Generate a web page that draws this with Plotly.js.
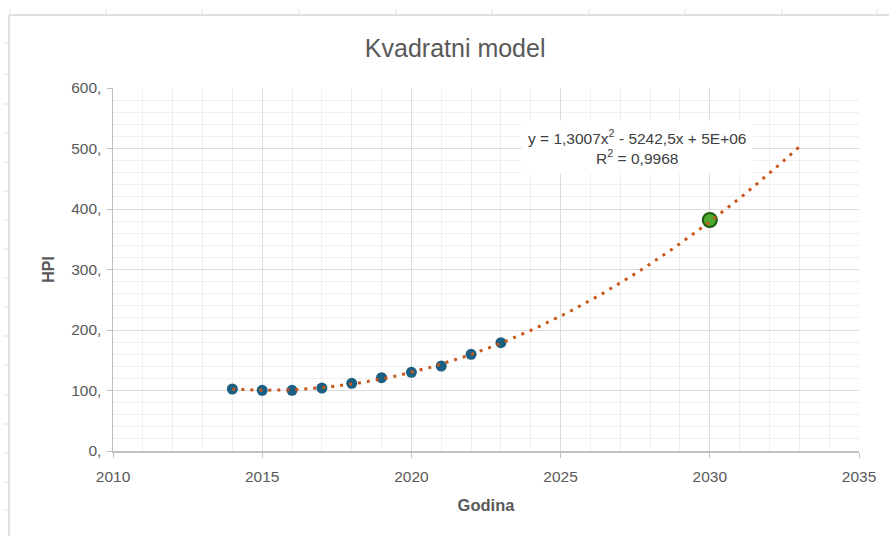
<!DOCTYPE html>
<html>
<head>
<meta charset="utf-8">
<script src="https://cdn.plot.ly/plotly-3.0.1.min.js"></script>
<style>
html,body{margin:0;padding:0;background:#fff;}
#chart{width:889px;height:536px;}
</style>
</head>
<body>
<div id="chart"></div>
<script>
// ---- data ----
var years = [2014, 2015, 2016, 2017, 2018, 2019, 2020, 2021, 2022, 2023];
var hpi = [102.5, 100.3, 100.3, 104, 111.9, 121.2, 130, 140.5, 159.8, 179];
var forecastYear = [2030];
var forecastHpi = [381.8];
var yTickVals = [0, 100, 200, 300, 400, 500, 600];
var yTickText = ['0,', '100,', '200,', '300,', '400,', '500,', '600,'];
var xTickVals = [2010, 2015, 2020, 2025, 2030, 2035];
var xTickText = ['2010', '2015', '2020', '2025', '2030', '2035'];
var titleText = 'Kvadratni model';
var xTitle = 'Godina';
var yTitle = 'HPI';
var eqText = 'y = 1,3007x<sup>2</sup> - 5242,5x + 5E+06<br>R<sup>2</sup> = 0,9968';

// ---- quadratic least-squares trendline (as Excel) ----
function quadFit(xs, ys) {
  var n = xs.length, mx = 0;
  xs.forEach(function(v){ mx += v; }); mx /= n;
  var S = [[0,0,0],[0,0,0],[0,0,0]], B = [0,0,0];
  for (var i = 0; i < n; i++) {
    var t = xs[i] - mx, p = [1, t, t*t];
    for (var r = 0; r < 3; r++) {
      B[r] += p[r] * ys[i];
      for (var c = 0; c < 3; c++) S[r][c] += p[r] * p[c];
    }
  }
  for (var k = 0; k < 3; k++) {
    for (var r2 = k + 1; r2 < 3; r2++) {
      var f = S[r2][k] / S[k][k];
      for (var c2 = k; c2 < 3; c2++) S[r2][c2] -= f * S[k][c2];
      B[r2] -= f * B[k];
    }
  }
  var coef = [0,0,0];
  for (var r3 = 2; r3 >= 0; r3--) {
    var s = B[r3];
    for (var c3 = r3 + 1; c3 < 3; c3++) s -= S[r3][c3] * coef[c3];
    coef[r3] = s / S[r3][r3];
  }
  return function(x){ var t = x - mx; return coef[0] + coef[1]*t + coef[2]*t*t; };
}
var fit = quadFit(years, hpi);
var trendX = [], trendY = [];
var xStart = years[0], xEnd = years[years.length-1] + 10;
for (var k = 0; k <= (xEnd - xStart) * 10; k++) {
  var xv = xStart + k / 10;
  trendX.push(xv); trendY.push(fit(xv));
}

// ---- layout helpers (pixel -> paper) ----
var L = 113, R = 859, T = 88, Bt = 451;
function px(x){ return (x - L) / (R - L); }
function py(y){ return (Bt - y) / (Bt - T); }

var shapes = [];
var frameColor = '#d6d6d6';
shapes.push({type:'line', xref:'paper', yref:'paper', x0:px(9), x1:px(889), y0:py(15), y1:py(15), line:{color:frameColor, width:1.5}, layer:'above'});
shapes.push({type:'line', xref:'paper', yref:'paper', x0:px(9), x1:px(9), y0:py(15), y1:py(536), line:{color:frameColor, width:1.5}, layer:'above'});
var topTicks = [10, 106, 202, 299, 396, 492, 589, 685, 782, 877];
topTicks.forEach(function(x){
  shapes.push({type:'line', xref:'paper', yref:'paper', x0:px(x), x1:px(x), y0:py(9), y1:py(15), line:{color:'#e2e2e2', width:1}});
});
var leftTicks = [43, 74, 104, 133, 162, 191, 220, 249, 278, 307, 336, 365, 395, 424, 453, 482, 510];
leftTicks.forEach(function(y){
  shapes.push({type:'line', xref:'paper', yref:'paper', x0:px(3), x1:px(9), y0:py(y), y1:py(y), line:{color:'#e2e2e2', width:1}});
});

var traces = [
  {x: years, y: hpi, type:'scatter', mode:'markers', name:'HPI',
   marker:{color:'#1b5f82', size:11, line:{width:0}}, showlegend:false, cliponaxis:false},
  {x: forecastYear, y: forecastHpi, type:'scatter', mode:'markers', name:'2030',
   marker:{color:'#4ea72e', size:14, line:{color:'#1f5a12', width:2}}, showlegend:false},
  {x: trendX, y: trendY, type:'scatter', mode:'lines', name:'trend',
   line:{color:'#c9561b', width:3, dash:'3px,6px'}, showlegend:false, hoverinfo:'skip'}
];

var baseFont = 'Liberation Sans, Arial, sans-serif';
var tickFont = {family: baseFont, size:15.5, color:'#595959'};
var layout = {
  width: 889, height: 536,
  margin: {l: L, r: 889 - R, t: T, b: 536 - Bt, pad: 0},
  paper_bgcolor: '#ffffff', plot_bgcolor: '#ffffff',
  title: {text: titleText, x: 0.512, xanchor:'center', y: 1 - 48/536, yanchor:'middle',
          font:{family: baseFont, size:25, color:'#595959'}},
  xaxis: {range:[2010, 2035], tickvals: xTickVals, ticktext: xTickText,
          showgrid:true, gridcolor:'#dcdcdc', gridwidth:1,
          minor:{dtick:1, showgrid:true, gridcolor:'#efefef', gridwidth:1, ticks:''},
          showline:true, linecolor:'#bfbfbf', linewidth:1.5, ticks:'outside', ticklen:5, tickcolor:'#bfbfbf',
          tickfont: tickFont, ticklabelstandoff: 6, zeroline:false, mirror:false,
          title:{text: xTitle, standoff: 15, font:{family: baseFont, size:16.5, color:'#595959', weight:'bold'}}},
  yaxis: {range:[0, 600], tickvals: yTickVals, ticktext: yTickText,
          showgrid:true, gridcolor:'#dcdcdc', gridwidth:1,
          minor:{dtick:20, showgrid:true, gridcolor:'#efefef', gridwidth:1, ticks:''},
          showline:true, linecolor:'#bfbfbf', linewidth:1.5, ticks:'outside', ticklen:5, tickcolor:'#bfbfbf',
          tickfont: tickFont, ticklabelstandoff: 2, zeroline:false,
          title:{text: yTitle, standoff: 12, font:{family: baseFont, size:16, color:'#595959', weight:'bold'}}},
  shapes: shapes,
  annotations: [{
    text: eqText, xref:'x', yref:'y', x: 2027.55, y: 503, showarrow:false,
    xanchor:'center', yanchor:'middle', align:'center',
    bgcolor:'#ffffff', borderpad:6,
    font:{family: baseFont, size:15.5, color:'#404040'}
  }],
  showlegend:false
};

Plotly.newPlot('chart', traces, layout, {staticPlot:true, displayModeBar:false});
</script>
</body>
</html>
